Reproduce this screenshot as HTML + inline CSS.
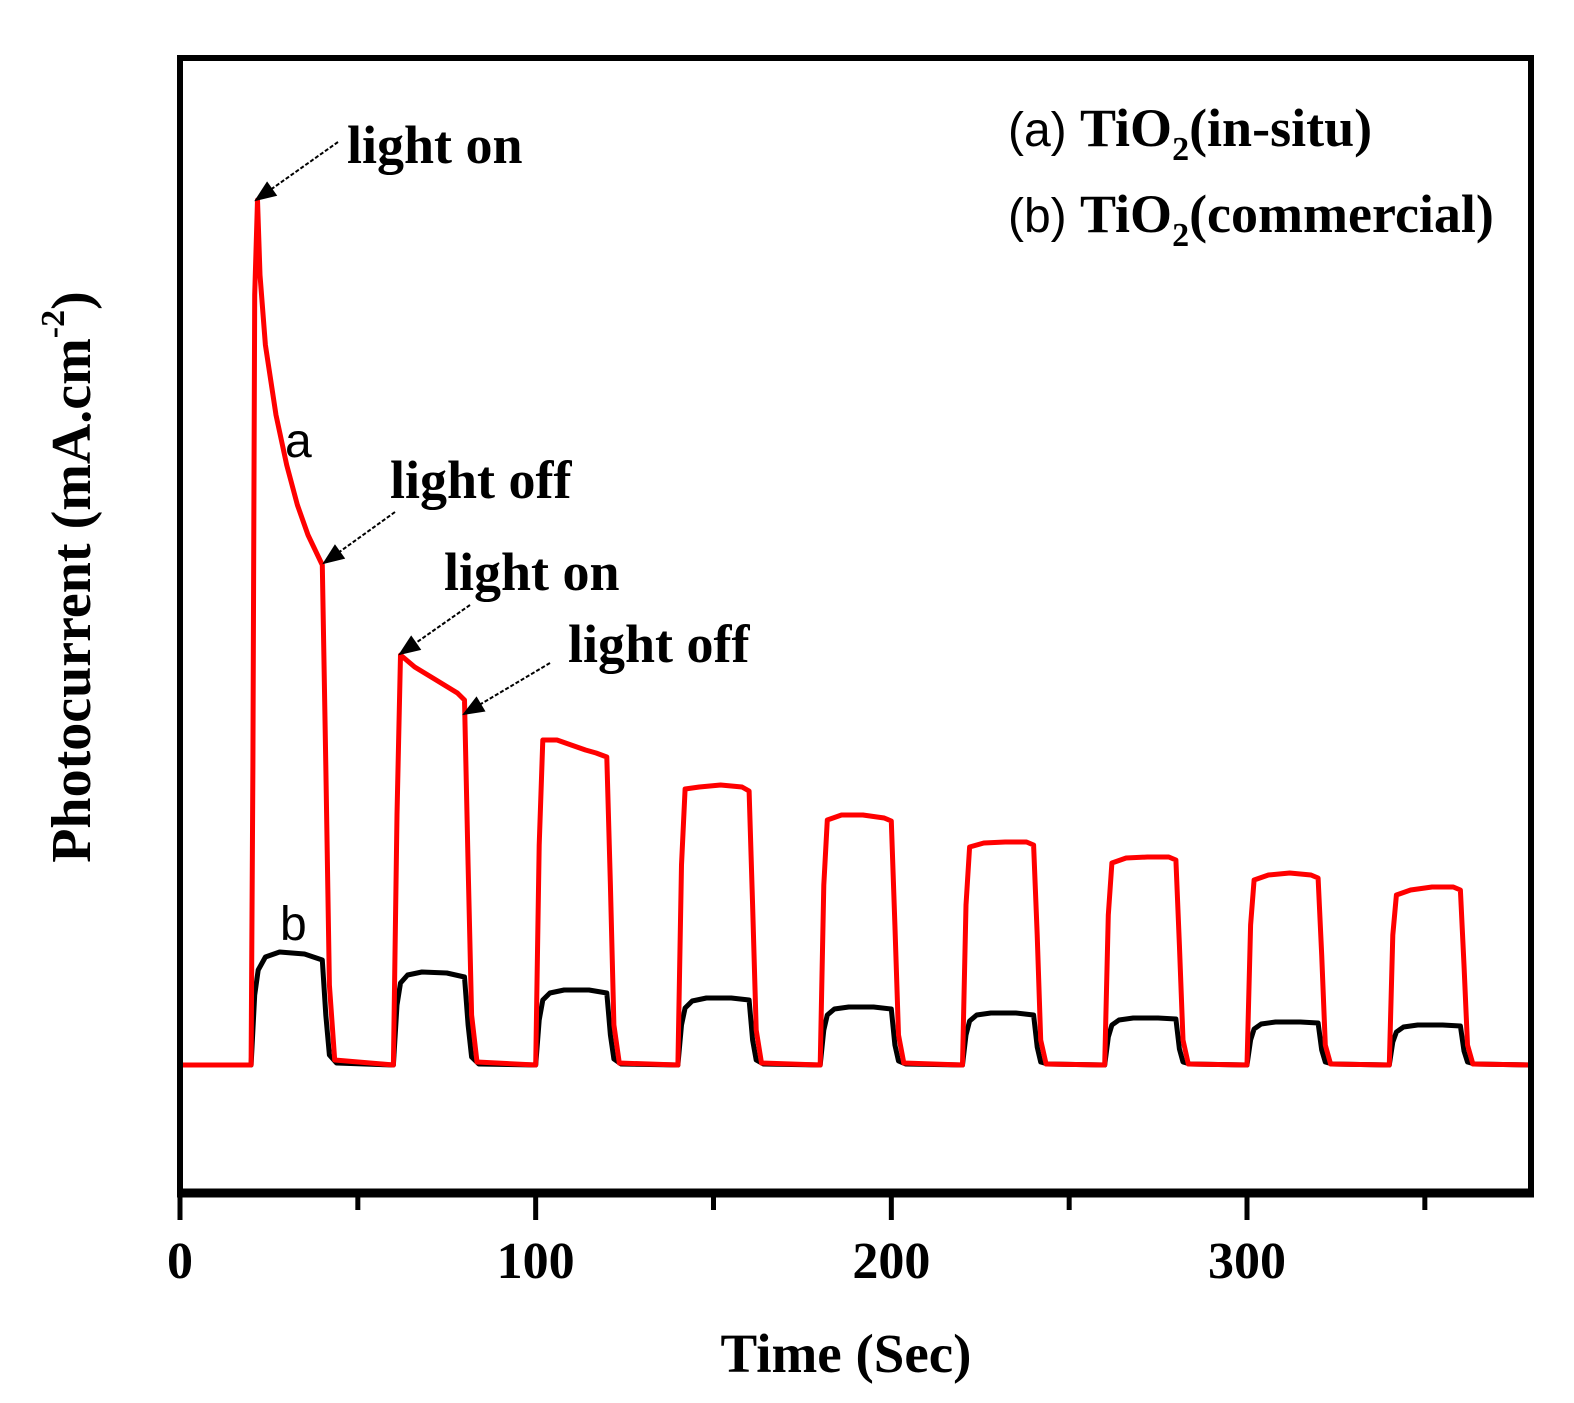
<!DOCTYPE html>
<html><head><meta charset="utf-8"><style>
html,body{margin:0;padding:0;background:#fff;}
svg{display:block;}
.tk{font-family:"Liberation Serif",serif;font-weight:bold;font-size:52px;}
.an{font-family:"Liberation Serif",serif;font-weight:bold;font-size:54px;}
.lg{font-family:"Liberation Sans",sans-serif;font-size:48px;}
</style></head><body>
<svg id="chart" width="1574" height="1403" viewBox="0 0 1574 1403">
<defs>
<marker id="ah2" viewBox="0 0 10 10" refX="9" refY="5" markerWidth="30" markerHeight="22" markerUnits="userSpaceOnUse" orient="auto"><path d="M0,1 L10,5 L0,9 z" fill="#000"/></marker></defs>
<g id="plot"></g>
<rect x="180" y="58" width="1351" height="1135" fill="none" stroke="#000" stroke-width="6"/>
<line x1="177" y1="1193" x2="1534" y2="1193" stroke="#000" stroke-width="9"/>
<g id="ticks"></g>
<text x="846" y="1372" text-anchor="middle" class="tk" style="font-size:55px">Time (Sec)</text>
<text transform="translate(90,577) rotate(-90)" text-anchor="middle" class="tk" style="font-size:56px">Photocurrent (mA.cm<tspan dy="-26" font-size="34">-2</tspan><tspan dy="26">)</tspan></text>
<g>
<text x="1008" y="146" class="lg">(a) <tspan class="an" font-size="52">TiO<tspan dy="14" font-size="34">2</tspan><tspan dy="-14">(in-situ)</tspan></tspan></text>
<text x="1008" y="232" class="lg">(b) <tspan class="an" font-size="52">TiO<tspan dy="14" font-size="34">2</tspan><tspan dy="-14">(commercial)</tspan></tspan></text>
</g>
<g>
<text x="347" y="163" class="an">light on</text>
<line x1="338" y1="142" x2="256" y2="200" stroke="#000" stroke-width="2" stroke-dasharray="4,2" marker-end="url(#ah2)"/>
<text x="390" y="498" class="an">light off</text>
<line x1="395" y1="512" x2="324" y2="563" stroke="#000" stroke-width="2" stroke-dasharray="4,2" marker-end="url(#ah2)"/>
<text x="444" y="590" class="an">light on</text>
<line x1="470" y1="605" x2="400" y2="654" stroke="#000" stroke-width="2" stroke-dasharray="4,2" marker-end="url(#ah2)"/>
<text x="568" y="662" class="an">light off</text>
<line x1="550" y1="663" x2="464" y2="714" stroke="#000" stroke-width="2" stroke-dasharray="4,2" marker-end="url(#ah2)"/>
<text x="285" y="457" class="lg">a</text>
<text x="280" y="940" class="lg">b</text>
</g>
</svg>
<script>
const xTicks=[0,100,200,300];
const xMinor=[50,150,250,350];
const bTime=[0,20,21,22,24,28,35,40,41,42,44,60,61,62,64,68,75,80,81,82,84,100,101,102,104,108,115,120,121,122,124,140,141,142,144,148,155,160,161,162,164,180,181,182,184,188,195,200,201,202,204,220,221,222,224,228,235,240,241,242,244,260,261,262,264,268,275,280,281,282,284,300,301,302,304,308,315,320,321,322,324,340,341,342,344,348,355,360,361,362,364,380];
const bVal=[0,0,0.7,0.95,1.08,1.13,1.11,1.05,0.5,0.1,0.02,0,0.6,0.82,0.9,0.93,0.92,0.88,0.4,0.08,0.01,0,0.45,0.65,0.72,0.75,0.75,0.72,0.3,0.06,0.01,0,0.4,0.57,0.64,0.67,0.67,0.65,0.25,0.05,0.01,0,0.35,0.5,0.56,0.58,0.58,0.56,0.2,0.04,0.01,0,0.3,0.44,0.5,0.52,0.52,0.5,0.18,0.03,0.01,0,0.28,0.4,0.45,0.47,0.47,0.46,0.16,0.03,0.01,0,0.25,0.36,0.41,0.43,0.43,0.42,0.15,0.03,0.01,0,0.23,0.33,0.38,0.4,0.4,0.39,0.14,0.03,0.01,0];
const aTime=[0,20,20.5,21,21.8,22.5,24,27,30,33,36,40,41,42,43.5,60,61,62,66,72,78,80,81,82,83.5,100,101,102,106,110,114,117,120,121,122,123.5,140,141,142,146,152,158,160,161,162,163.5,180,181,182,186,192,198,200,201,202,203.5,220,221,222,226,232,238,240,241,242,243.5,260,261,262,266,272,278,280,281,282,283.5,300,301,302,306,312,318,320,321,322,323.5,340,341,342,346,352,358,360,361,362,363.5,380];
const aVal=[0,0,3,7.7,8.65,7.9,7.2,6.5,6.0,5.6,5.3,5.0,3.0,0.8,0.05,0,2.5,4.1,3.98,3.85,3.72,3.65,2.0,0.5,0.03,0,2.2,3.25,3.25,3.2,3.15,3.12,3.08,1.8,0.4,0.02,0,2.0,2.76,2.78,2.8,2.78,2.74,1.6,0.35,0.02,0,1.8,2.45,2.5,2.5,2.47,2.44,1.4,0.3,0.02,0,1.6,2.18,2.22,2.23,2.23,2.2,1.3,0.25,0.01,0,1.5,2.02,2.07,2.08,2.08,2.05,1.2,0.25,0.01,0,1.4,1.85,1.9,1.92,1.9,1.87,1.1,0.2,0.01,0,1.3,1.7,1.75,1.78,1.78,1.75,1.0,0.2,0.01,0];
const X=t=>180+t*3.5567;
const Y=v=>1065-v*100;
const NS='http://www.w3.org/2000/svg';
const plot=document.getElementById('plot');
function series(ts,vs,color,name){
  const p=document.createElementNS(NS,'path');
  let d='';ts.forEach((t,i)=>{d+=(i?'L':'M')+X(t).toFixed(1)+','+Y(vs[i]).toFixed(1);});
  p.setAttribute('d',d);p.setAttribute('fill','none');p.setAttribute('stroke',color);
  p.setAttribute('stroke-width','5');p.setAttribute('stroke-linejoin','round');
  
  
  plot.appendChild(p);
}
series(bTime,bVal,'#000','series-b-commercial');
series(aTime,aVal,'#ff0000','series-a-in-situ');
const tg=document.getElementById('ticks');
xTicks.forEach(t=>{
  const l=document.createElementNS(NS,'line');
  l.setAttribute('x1',X(t));l.setAttribute('x2',X(t));l.setAttribute('y1',1193);l.setAttribute('y2',1220);
  l.setAttribute('stroke','#000');l.setAttribute('stroke-width','5');
  
  
  tg.appendChild(l);
  const tx=document.createElementNS(NS,'text');
  tx.setAttribute('x',X(t));tx.setAttribute('y',1278);tx.setAttribute('text-anchor','middle');tx.setAttribute('class','tk');
  tx.textContent=t;
  
  
  tg.appendChild(tx);
});
xMinor.forEach(t=>{
  const l=document.createElementNS(NS,'line');
  l.setAttribute('x1',X(t));l.setAttribute('x2',X(t));l.setAttribute('y1',1193);l.setAttribute('y2',1210);
  l.setAttribute('stroke','#000');l.setAttribute('stroke-width','5');
  
  
  tg.appendChild(l);
});
</script>
</body></html>
